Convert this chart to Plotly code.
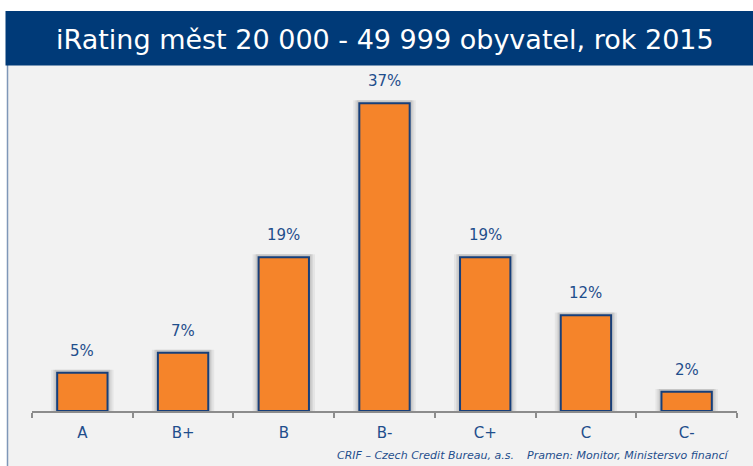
import plotly.graph_objects as go

categories = ["A", "B+", "B", "B-", "C+", "C", "C-"]
values = [4.6, 7.0, 18.5, 37.0, 18.5, 11.5, 2.3]
labels = ["5%", "7%", "19%", "37%", "19%", "12%", "2%"]

title_text = "iRating měst 20 000 - 49 999 obyvatel, rok 2015"
source_left = "CRIF – Czech Credit Bureau, a.s."
source_right = "Pramen: Monitor, Ministersvo financí"

W, H = 753, 466
navy = "#003a78"
label_color = "#1f4e8c"
orange = "#f5842a"

fig = go.Figure()

# soft shadow layers behind bars
for w, a in [(0.62, 0.05), (0.58, 0.06), (0.55, 0.08)]:
    fig.add_trace(go.Bar(
        x=categories, y=[v + 0.35 for v in values], width=w,
        marker=dict(color=f"rgba(0,0,0,{a})", line=dict(width=0)),
        hoverinfo="skip", showlegend=False))

fig.add_trace(go.Bar(
    x=categories, y=values, width=0.5,
    marker=dict(color=orange, line=dict(color="#173f7a", width=2)),
    showlegend=False))

for c, v, t in zip(categories, values, labels):
    fig.add_annotation(x=c, y=v, text=t, showarrow=False, yanchor="bottom",
                       yshift=11, font=dict(size=15, color=label_color,
                                            family="DejaVu Sans"))

shapes = [
    # gray panel
    dict(type="rect", xref="paper", yref="paper", x0=7 / W, x1=1.01, y0=-0.01,
         y1=1 - 65 / H, fillcolor="#f2f2f2", line=dict(width=0), layer="below"),
    # left border
    dict(type="line", xref="paper", yref="paper", x0=7.5 / W, x1=7.5 / W,
         y0=0, y1=1 - 65 / H, line=dict(color="#7f97b8", width=1.5), layer="below"),
    # title bar
    dict(type="rect", xref="paper", yref="paper", x0=5.5 / W, x1=1.01,
         y0=1 - 65.5 / H, y1=1 - 11 / H, fillcolor=navy, line=dict(width=0),
         layer="below"),
]

annotations_extra = [
    dict(text=title_text, x=385 / W, y=1 - 39 / H, size=27, italic=False,
         family="DejaVu Sans", color="white"),
    dict(text=source_left, x=425 / W, y=1 - 455 / H, size=11, italic=True,
         family="DejaVu Sans", color=label_color),
    dict(text=source_right, x=628 / W, y=1 - 455 / H, size=11, italic=True,
         family="DejaVu Sans", color=label_color),
]
for a in annotations_extra:
    txt = "<i>" + a["text"] + "</i>" if a["italic"] else a["text"]
    fig.add_annotation(text=txt, xref="paper", yref="paper", x=a["x"], y=a["y"],
                       showarrow=False, xanchor="center", yanchor="middle",
                       font=dict(size=a["size"], color=a["color"], family=a["family"]))

fig.update_layout(
    width=W, height=H,
    margin=dict(l=0, r=0, t=0, b=0),
    paper_bgcolor="white", plot_bgcolor="rgba(0,0,0,0)",
    barmode="overlay", bargap=0.5,
    shapes=shapes,
    xaxis=dict(domain=[32 / W, 737 / W], showgrid=False, zeroline=False,
               showline=True, linecolor="#8c8c8c", linewidth=2,
               ticks="outside", tickson="boundaries", ticklen=5,
               tickcolor="#8c8c8c", tickwidth=1.5, ticklabelstandoff=7,
               tickfont=dict(size=15, color=label_color, family="DejaVu Sans")),
    yaxis=dict(domain=[(H - 411) / H, (H - 70) / H], range=[0, 41],
               visible=False, showgrid=False, zeroline=False),
)

fig.write_html("out.html", config={"displayModeBar": False},
               post_script="document.body.style.margin='0';"
                           "document.body.style.overflow='hidden';")
